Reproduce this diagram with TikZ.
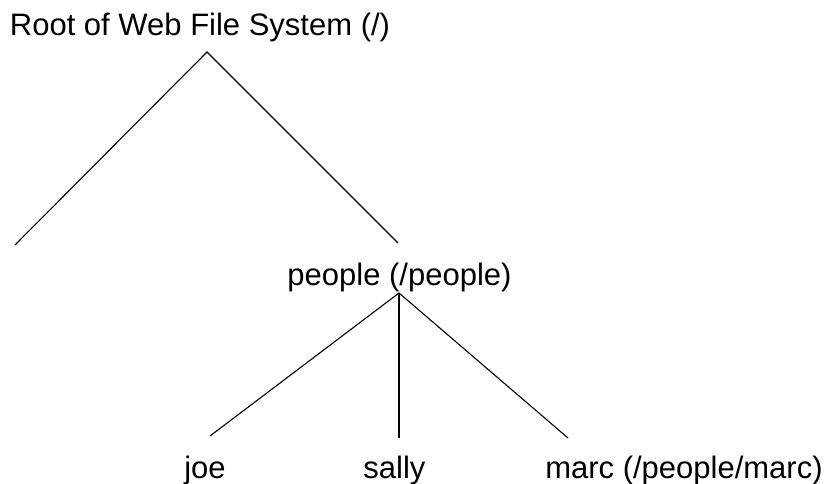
\documentclass[tikz,border=0pt]{standalone}
\usepackage{fontspec}
\setmainfont{Liberation Sans}
\begin{document}
\begin{tikzpicture}[x=1pt,y=-1pt,
  lbl/.style={anchor=base,inner sep=0pt,font=\fontsize{31}{31}\selectfont},
  edge/.style={draw=black,line width=1.1pt}]
\useasboundingbox (0,0) rectangle (825,484);
\node[lbl] (root) at (200,36) {Root of Web File System (/)};
\node[lbl] (people) at (399.5,285) {people (/people)};
\node[lbl] (joe) at (205,478) {joe};
\node[lbl] (sally) at (394.5,478) {sally};
\node[lbl] (marc) at (684,478) {marc (/people/marc)};
\coordinate (rootapex) at (207,52);
\coordinate (leftend) at (15,245);
\coordinate (peopletop) at (398,243);
\coordinate (peopleapex) at (399,293);
\coordinate (joetop) at (210,436);
\coordinate (sallytop) at (399,438);
\coordinate (marctop) at (568,438);
\draw[edge] (leftend) -- (rootapex) -- (peopletop);
\draw[edge] (joetop) -- (peopleapex) -- (marctop);
\draw[edge] (peopleapex) -- (sallytop);
\end{tikzpicture}
\end{document}
